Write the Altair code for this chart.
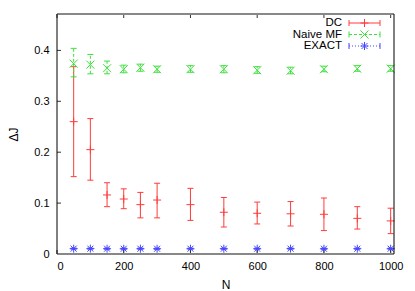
import altair as alt
import pandas as pd

N = [50, 100, 150, 200, 250, 300, 400, 500, 600, 700, 800, 900, 1000]

dc = [0.260, 0.205, 0.116, 0.108, 0.097, 0.106, 0.097, 0.082, 0.080, 0.079, 0.078, 0.070, 0.065]
dc_lo = [0.152, 0.145, 0.093, 0.089, 0.071, 0.071, 0.066, 0.053, 0.059, 0.055, 0.046, 0.049, 0.040]
dc_hi = [0.368, 0.266, 0.140, 0.128, 0.121, 0.139, 0.129, 0.111, 0.102, 0.103, 0.110, 0.093, 0.090]

mf = [0.374, 0.372, 0.365, 0.363, 0.366, 0.363, 0.363, 0.363, 0.361, 0.360, 0.363, 0.364, 0.364]
mf_lo = [0.348, 0.354, 0.354, 0.356, 0.359, 0.357, 0.357, 0.356, 0.355, 0.354, 0.358, 0.359, 0.359]
mf_hi = [0.404, 0.392, 0.379, 0.371, 0.373, 0.369, 0.370, 0.370, 0.368, 0.367, 0.369, 0.370, 0.370]

ex = [0.0105, 0.0105, 0.0104, 0.0103, 0.0104, 0.0103, 0.0104, 0.0104, 0.0104, 0.0105, 0.0103, 0.0104, 0.0104]
ex_lo = [0.0095, 0.0095, 0.0094, 0.0093, 0.0094, 0.0093, 0.0094, 0.0094, 0.0094, 0.0095, 0.0093, 0.0094, 0.0094]
ex_hi = [0.0115, 0.0115, 0.0114, 0.0113, 0.0114, 0.0113, 0.0114, 0.0114, 0.0114, 0.0115, 0.0113, 0.0114, 0.0114]

x_ticks = [0, 200, 400, 600, 800, 1000]
y_ticks = [0, 0.1, 0.2, 0.3, 0.4]

series = ["DC", "Naive MF", "EXACT"]

df = pd.DataFrame({
    "N": N, "dc": dc, "dc_lo": dc_lo, "dc_hi": dc_hi,
    "mf": mf, "mf_lo": mf_lo, "mf_hi": mf_hi,
    "ex": ex, "ex_lo": ex_lo, "ex_hi": ex_hi,
})
xt = pd.DataFrame({"t": x_ticks})
yt = pd.DataFrame({"t": y_ticks})

W, H = 337, 240
FONT = "Liberation Sans"

RED = "#ff3c3c"
GREEN = "#3ce03c"
BLUE = "#4646ff"

PLUS = "M-1,0L1,0M0,-1L0,1"
XSHAPE = "M-1,-1L1,1M1,-1L-1,1"
STAR = "M-1,0L1,0M0,-1L0,1M-0.75,-0.75L0.75,0.75M0.75,-0.75L-0.75,0.75"
CAP = "M-1,0L1,0"

xaxis = alt.Axis(values=x_ticks, title="N", grid=False, domain=False, ticks=False, tickSize=0,
                 labelExpr="format(datum.value, 'd')",
                 labelFontSize=11, labelFont=FONT, labelColor="#000", labelPadding=6,
                 titleFont=FONT, titleFontSize=12, titleFontWeight="normal", titleColor="#000",
                 titlePadding=8)
yaxis = alt.Axis(values=y_ticks, title="ΔJ", grid=False, domain=False, ticks=False, tickSize=0,
                 labelExpr="datum.value == 0 ? '0' : format(datum.value, '.1f')",
                 labelFontSize=11, labelFont=FONT, labelColor="#000", labelPadding=8,
                 titleFont=FONT, titleFontSize=12, titleFontWeight="normal", titleColor="#000",
                 titlePadding=13)
xs = alt.Scale(domain=[0, 1010], nice=False, zero=False)
ys = alt.Scale(domain=[0, 0.4715], nice=False, zero=False)


def X(f):
    return alt.X(f"{f}:Q", scale=xs, axis=xaxis)


def Y(f):
    return alt.Y(f"{f}:Q", scale=ys, axis=yaxis)


base = alt.Chart(df)
layers = []

specs = [
    ("dc", RED, PLUS, []),
    ("mf", GREEN, XSHAPE, [3, 2]),
    ("ex", BLUE, STAR, [1, 2]),
]
for key, col, shape, dash in specs:
    rule_kw = dict(color=col, strokeWidth=1)
    if dash:
        rule_kw["strokeDash"] = dash
    layers.append(base.mark_rule(**rule_kw).encode(x=X("N"), y=Y(f"{key}_lo"), y2=f"{key}_hi:Q"))
    for end in ("lo", "hi"):
        layers.append(base.mark_point(shape=CAP, size=36, filled=False, color=col, strokeWidth=1, opacity=1)
                      .encode(x=X("N"), y=Y(f"{key}_{end}")))
    layers.append(base.mark_point(shape=shape, size=64, filled=False, color=col, strokeWidth=1, opacity=1)
                  .encode(x=X("N"), y=Y(key)))

# inward ticks
layers.append(alt.Chart(xt).mark_rule(color="#333", strokeWidth=1).encode(
    x=X("t"), y=alt.value(H), y2=alt.value(H - 4)))
layers.append(alt.Chart(xt).mark_rule(color="#333", strokeWidth=1).encode(
    x=X("t"), y=alt.value(0), y2=alt.value(4)))
layers.append(alt.Chart(yt).mark_rule(color="#333", strokeWidth=1).encode(
    y=Y("t"), x=alt.value(0), x2=alt.value(4)))

# frame
frame = alt.Chart(pd.DataFrame({"a": [0]}))
layers.append(frame.mark_rule(color="#888", strokeWidth=2).encode(x=alt.value(0), x2=alt.value(W), y=alt.value(0)))
layers.append(frame.mark_rule(color="#888", strokeWidth=2).encode(x=alt.value(0), x2=alt.value(W), y=alt.value(H)))
layers.append(frame.mark_rule(color="#000", strokeWidth=1).encode(x=alt.value(0), y=alt.value(0), y2=alt.value(H)))
layers.append(frame.mark_rule(color="#000", strokeWidth=1).encode(x=alt.value(W), y=alt.value(0), y2=alt.value(H)))

# legend
leg_y = [9, 20.5, 32]
for (key, col, shape, dash), name, ly in zip(specs, series, leg_y):
    d = pd.DataFrame({"label": [name]})
    lc = alt.Chart(d)
    layers.append(lc.mark_text(align="right", baseline="middle", font=FONT, fontSize=11.5, color="#000")
                  .encode(text="label:N", x=alt.value(285), y=alt.value(ly)))
    kw = dict(color=col, strokeWidth=1)
    if dash:
        kw["strokeDash"] = dash
    layers.append(lc.mark_rule(**kw).encode(x=alt.value(292), x2=alt.value(323), y=alt.value(ly)))
    for lx in (292, 323):
        layers.append(lc.mark_rule(color=col, strokeWidth=1).encode(
            x=alt.value(lx), y=alt.value(ly - 3), y2=alt.value(ly + 3)))
    layers.append(lc.mark_point(shape=shape, size=64, filled=False, color=col, strokeWidth=1, opacity=1)
                  .encode(x=alt.value(307.5), y=alt.value(ly)))

chart = alt.layer(*layers).properties(
    width=W, height=H,
    autosize=alt.AutoSizeParams(type="none"),
    padding={"left": 49, "top": 6, "right": 13, "bottom": 37},
).configure_view(stroke=None)

chart.save("out.html", embed_options={"renderer": "svg", "actions": False})
